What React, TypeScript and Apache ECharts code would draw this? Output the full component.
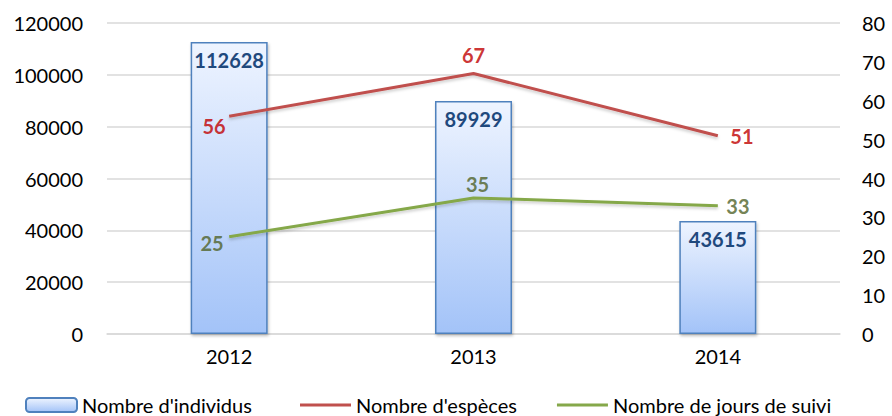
import React, { useEffect, useRef } from "react";
import * as echarts from "echarts";

const categories = ["2012", "2013", "2014"];
const individus = [112628, 89929, 43615];
const especes = [56, 67, 51];
const jours = [25, 35, 33];
const leftTicks = { min: 0, max: 120000, interval: 20000 };
const rightTicks = { min: 0, max: 80, interval: 10 };

const FONT = "Lato, 'Liberation Sans', sans-serif";
const RED = "#C0504D";
const GREEN = "#85A84A";

export default function App() {
  const ref = useRef<HTMLDivElement>(null);
  useEffect(() => {
    if (!ref.current) return;
    const chart = echarts.init(ref.current, null, { renderer: "svg" });
    const lblBase = {
      show: true,
      fontSize: 20,
      fontWeight: "bold",
      fontFamily: FONT,
    };
    const legendText = { fontFamily: FONT, fontSize: 20, color: "#000" };
    chart.setOption({
      animation: false,
      textStyle: { fontFamily: FONT },
      grid: { left: 107, right: 52, top: 23, bottom: 82 },
      legend: [
        {
          left: 20,
          top: 390,
          itemWidth: 51,
          itemHeight: 14,
          textStyle: legendText,
          data: [{ name: "Nombre d'individus" }],
        },
        {
          left: 295,
          top: 390,
          itemWidth: 51,
          itemHeight: 3,
          itemGap: 40,
          icon: "rect",
          textStyle: legendText,
          data: [{ name: "Nombre d'espèces" }, { name: "Nombre de jours de suivi" }],
        },
      ],
      xAxis: {
        type: "category",
        data: categories,
        axisLine: { lineStyle: { color: "#D9D9D9", width: 1.5 } },
        axisTick: { show: false },
        axisLabel: { fontSize: 20, color: "#000", margin: 12, fontFamily: FONT },
      },
      yAxis: [
        {
          type: "value",
          min: leftTicks.min,
          max: leftTicks.max,
          interval: leftTicks.interval,
          axisLine: { show: false },
          axisTick: { show: false },
          splitLine: { lineStyle: { color: "#D9D9D9", width: 1.5 } },
          axisLabel: {
            fontSize: 20,
            color: "#000",
            margin: 24,
            fontFamily: FONT,
            formatter: (v: number) => String(v),
          },
        },
        {
          type: "value",
          min: rightTicks.min,
          max: rightTicks.max,
          interval: rightTicks.interval,
          axisLine: { show: false },
          axisTick: { show: false },
          splitLine: { show: false },
          axisLabel: { fontSize: 20, color: "#000", margin: 22, fontFamily: FONT },
        },
      ],
      series: [
        {
          name: "Nombre d'individus",
          type: "bar",
          data: individus,
          barWidth: 77,
          itemStyle: {
            color: new echarts.graphic.LinearGradient(0, 0, 0, 1, [
              { offset: 0, color: "#EEF4FF" },
              { offset: 1, color: "#A3C3F8" },
            ]),
            borderColor: "#4F81BD",
            borderWidth: 1.5,
            shadowColor: "rgba(0,0,0,0.25)",
            shadowBlur: 3,
            shadowOffsetX: 1,
            shadowOffsetY: 2,
          },
          label: {
            ...lblBase,
            position: "insideTop",
            distance: 8,
            color: "#1F497D",
          },
        },
        {
          name: "Nombre d'espèces",
          type: "line",
          yAxisIndex: 1,
          data: especes,
          symbol: "none",
          lineStyle: {
            color: RED,
            width: 3,
            shadowColor: "rgba(0,0,0,0.2)",
            shadowBlur: 3,
            shadowOffsetY: 2,
          },
          itemStyle: { color: RED },
        },
        {
          name: "Nombre de jours de suivi",
          type: "line",
          yAxisIndex: 1,
          data: jours,
          symbol: "none",
          lineStyle: {
            color: GREEN,
            width: 3,
            shadowColor: "rgba(0,0,0,0.2)",
            shadowBlur: 3,
            shadowOffsetY: 2,
          },
          itemStyle: { color: GREEN },
        },
        {
          name: "lbl-especes",
          type: "scatter",
          yAxisIndex: 1,
          symbolSize: 1,
          itemStyle: { color: "rgba(0,0,0,0)" },
          data: [
            { value: especes[0], label: { position: "left", distance: 3, offset: [0, 10] } },
            { value: especes[1], label: { position: "top", distance: 8 } },
            { value: especes[2], label: { position: "right", distance: 12 } },
          ],
          label: { ...lblBase, color: "#C00000" },
        },
        {
          name: "lbl-jours",
          type: "scatter",
          yAxisIndex: 1,
          symbolSize: 1,
          itemStyle: { color: "rgba(0,0,0,0)" },
          data: [
            { value: jours[0], label: { position: "left", distance: 5, offset: [0, 6] } },
            { value: jours[1], label: { position: "top", distance: 3, offset: [4, 0] } },
            { value: jours[2], label: { position: "right", distance: 8 } },
          ],
          label: { ...lblBase, color: "#4F6228" },
        },
      ],
    });
    return () => chart.dispose();
  }, []);
  return <div ref={ref} style={{ width: 892, height: 416, position: "absolute", left: 0, top: 0 }} />;
}
